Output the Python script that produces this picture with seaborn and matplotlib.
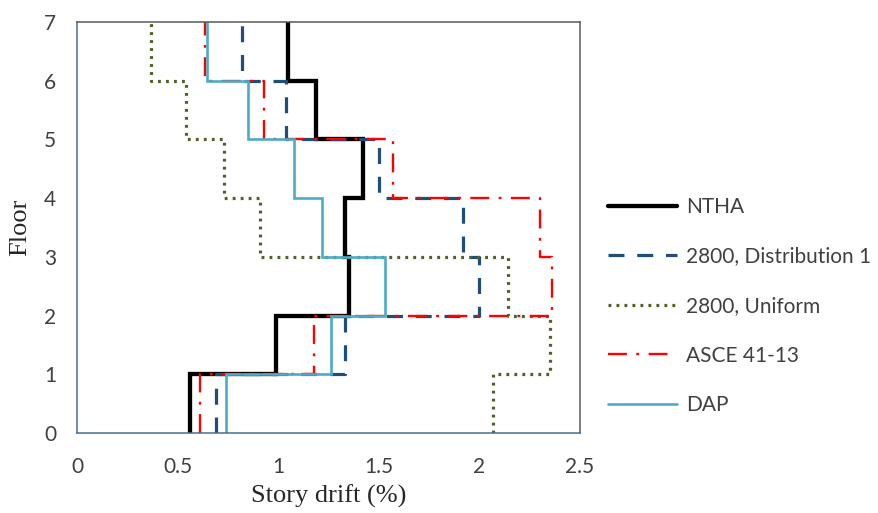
import matplotlib
matplotlib.use("Agg")
import matplotlib.pyplot as plt
import seaborn as sns
import pandas as pd
import numpy as np

# Story drift (%) for stories 1..7 (bottom to top)
floors = [0, 1, 2, 3, 4, 5, 6, 7]
ntha = [0.56, 0.99, 1.35, 1.33, 1.42, 1.19, 1.05]
dist1 = [0.69, 1.33, 2.00, 1.92, 1.50, 1.04, 0.82]
uniform = [2.07, 2.35, 2.14, 0.91, 0.73, 0.54, 0.37]
asce = [0.61, 1.18, 2.36, 2.30, 1.57, 0.93, 0.635]
dap = [0.74, 1.26, 1.53, 1.22, 1.08, 0.85, 0.645]

series_names = ["NTHA", "2800, Distribution 1", "2800, Uniform", "ASCE 41-13", "DAP"]
series_vals = [ntha, dist1, uniform, asce, dap]
x_ticks = [0, 0.5, 1, 1.5, 2, 2.5]
x_tick_labels = ["0", "0.5", "1", "1.5", "2", "2.5"]

styles = {
    "NTHA": dict(color="black", lw=3.1, ls="-"),
    "2800, Distribution 1": dict(color="#1F4E79", lw=2.3, ls=(0, (5, 4))),
    "2800, Uniform": dict(color="#4F6228", lw=2.3, ls=(0, (0.9, 1.6))),
    "ASCE 41-13": dict(color="#FF0000", lw=1.7, ls=(0, (8, 4, 1.2, 4))),
    "DAP": dict(color="#4BACC6", lw=1.9, ls="-"),
}

def step_frame(name, vals):
    xs, ys = [], []
    for i, v in enumerate(vals):
        xs += [v, v]
        ys += [floors[i], floors[i + 1]]
    return pd.DataFrame({"drift": xs, "floor": ys, "series": name})

sns.set_style("white")
plt.rcParams["font.family"] = ["Lato", "DejaVu Sans"]

fig = plt.figure(figsize=(8.79, 5.13), dpi=100)
ax = fig.add_axes([77 / 879, 1 - 433 / 513, (580 - 77) / 879, (433 - 22) / 513])

for name, vals in zip(series_names, series_vals):
    df = step_frame(name, vals)
    st = styles[name]
    sns.lineplot(data=df, x="drift", y="floor", sort=False, estimator=None,
                 color=st["color"], lw=st["lw"], linestyle=st["ls"],
                 label=name, ax=ax, solid_joinstyle="miter")

ax.set_xlim(0, 2.5)
ax.set_ylim(0, 7)
ax.set_xticks(x_ticks)
ax.set_xticklabels(x_tick_labels)
ax.set_yticks(floors)

spine_blue = "#4A6B98"
for s in ["left", "bottom"]:
    ax.spines[s].set_color(spine_blue)
    ax.spines[s].set_linewidth(1.1)
for s in ["top", "right"]:
    ax.spines[s].set_color("#595959")
    ax.spines[s].set_linewidth(1.1)
ax.tick_params(axis="both", direction="out", length=6, width=1.0, color=spine_blue,
               labelsize=15, labelcolor="#404040")
ax.tick_params(axis="x", pad=11)
ax.tick_params(axis="y", pad=9)

ax.set_xlabel("Story drift (%)", fontsize=19, family=["Liberation Serif"], color="#262626", labelpad=6)
ax.set_ylabel("Floor", fontsize=19, family=["Liberation Serif"], color="#262626", labelpad=9)

ax.get_legend().remove()
handles, labels = ax.get_legend_handles_labels()
leg = fig.legend(handles, labels, loc="center left", bbox_to_anchor=(608 / 879, 1 - 306 / 513),
                 frameon=False, fontsize=15, handlelength=3.3, handletextpad=0.45,
                 labelspacing=1.42, borderpad=0, borderaxespad=0)
for t in leg.get_texts():
    t.set_color("#404040")

fig.savefig("out.png", dpi=100)
